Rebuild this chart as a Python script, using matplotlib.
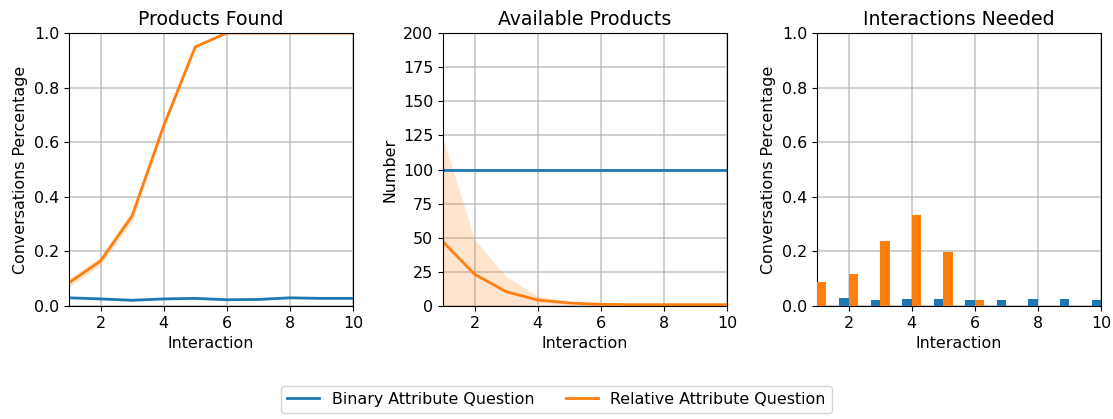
import matplotlib
matplotlib.use("Agg")
import matplotlib.pyplot as plt
import numpy as np

interactions = [1, 2, 3, 4, 5, 6, 7, 8, 9, 10]

# Products Found
found_binary = [0.030, 0.026, 0.021, 0.026, 0.028, 0.023, 0.024, 0.030, 0.028, 0.028]
found_binary_lo = [0.027, 0.023, 0.018, 0.023, 0.025, 0.020, 0.021, 0.027, 0.025, 0.025]
found_binary_hi = [0.033, 0.029, 0.024, 0.029, 0.031, 0.026, 0.027, 0.033, 0.031, 0.031]
found_relative = [0.085, 0.165, 0.33, 0.66, 0.949, 1.0, 1.0, 1.0, 1.0, 1.0]
found_relative_lo = [0.070, 0.150, 0.31, 0.645, 0.945, 1.0, 1.0, 1.0, 1.0, 1.0]
found_relative_hi = [0.100, 0.180, 0.35, 0.675, 0.953, 1.0, 1.0, 1.0, 1.0, 1.0]

# Available Products
avail_binary = [100, 100, 100, 100, 100, 100, 100, 100, 100, 100]
avail_relative = [47, 23.3, 10.5, 4.4, 2.2, 1.2, 1.0, 1.0, 1.0, 1.0]
avail_relative_lo = [0, 0, 0, 1.5, 1.0, 0.8, 0.6, 0.6, 0.6, 0.6]
avail_relative_hi = [122.8, 49, 21.5, 7.3, 3.4, 1.8, 1.5, 1.5, 1.5, 1.5]

# Interactions Needed
needed_binary = [0.03, 0.028, 0.021, 0.025, 0.025, 0.021, 0.021, 0.025, 0.025, 0.021]
needed_relative = [0.087, 0.117, 0.238, 0.335, 0.199, 0.021, 0, 0, 0, 0]

labels = ["Binary Attribute Question", "Relative Attribute Question"]
blue = "#1f77b4"
orange = "#ff7f0e"

plt.rcParams.update({"font.size": 11.4})
fig = plt.figure(figsize=(11.13, 4.19), dpi=100)
left0 = 69 / 1113
w = 284 / 1113
gap = (443 - 69) / 1113
bottom = 1 - 306 / 419
h = (306 - 33) / 419
axes = [fig.add_axes([left0 + i * gap, bottom, w, h]) for i in range(3)]

x = np.array(interactions)

ax = axes[0]
ax.fill_between(x, found_binary_lo, found_binary_hi, color=blue, alpha=0.2, lw=0)
ax.plot(x, found_binary, color=blue, lw=2, label=labels[0])
ax.fill_between(x, found_relative_lo, found_relative_hi, color=orange, alpha=0.2, lw=0)
ax.plot(x, found_relative, color=orange, lw=2, label=labels[1])
ax.set_xlim(1, 10)
ax.set_ylim(0, 1)
ax.set_title("Products Found", fontsize=13.6)
ax.set_xlabel("Interaction")
ax.set_ylabel("Conversations Percentage")

ax = axes[1]
ax.plot(x, avail_binary, color=blue, lw=2)
ax.fill_between(x, avail_relative_lo, avail_relative_hi, color=orange, alpha=0.2, lw=0)
ax.plot(x, avail_relative, color=orange, lw=2)
ax.set_xlim(1, 10)
ax.set_ylim(0, 200)
ax.set_title("Available Products", fontsize=13.6)
ax.set_xlabel("Interaction")
ax.set_ylabel("Number")

ax = axes[2]
bw = 0.3
ax.bar(x - bw / 2, needed_binary, width=bw, color=blue, zorder=3)
ax.bar(x + bw / 2, needed_relative, width=bw, color=orange, zorder=3)
ax.set_xlim(1, 10)
ax.set_ylim(0, 1)
ax.set_title("Interactions Needed", fontsize=13.6)
ax.set_xlabel("Interaction")
ax.set_ylabel("Conversations Percentage")

for ax in axes:
    ax.set_xticks([2, 4, 6, 8, 10])
    ax.grid(True, color="#b0b0b0", lw=1.2, alpha=0.7, zorder=0)
    ax.set_axisbelow(True)

handles, labs = axes[0].get_legend_handles_labels()
fig.legend(handles, labs, loc="lower center", ncol=2, bbox_to_anchor=(0.5, -0.005),
           frameon=True, fontsize=11.4, columnspacing=2.0, handlelength=2.0)

fig.savefig("out.png", dpi=100)
